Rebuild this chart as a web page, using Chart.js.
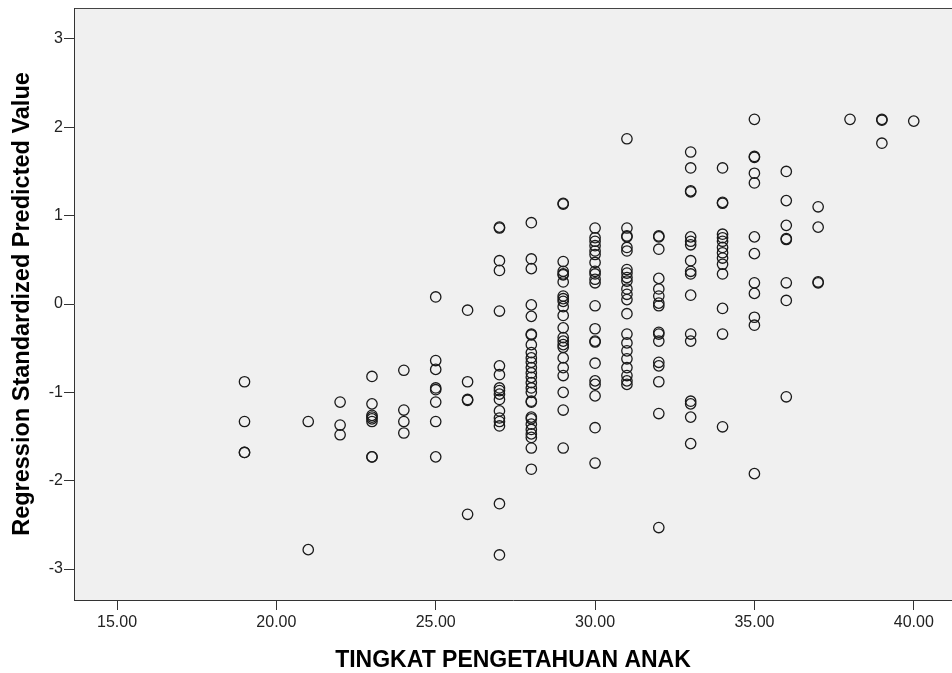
<!DOCTYPE html>
<html>
<head>
<meta charset="utf-8">
<script src="https://cdn.jsdelivr.net/npm/chart.js@4/dist/chart.umd.min.js"></script>
<style>
  html, body { margin: 0; padding: 0; background: #fff; }
  #wrap { width: 952px; height: 673px; }
</style>
</head>
<body>
<div id="wrap"><canvas id="scatterChart" width="952" height="673"></canvas></div>
<script>
// knowledge score (x) and the predicted values plotted at each score
const scores = [19, 21, 22, 23, 24, 25, 26, 27, 28, 29, 30, 31, 32, 33, 34, 35, 36, 37, 38, 39, 40];
const predicted = [
    [-0.88, -1.33, -1.68, -1.68],
    [-1.33, -2.78],
    [-1.11, -1.37, -1.48],
    [-0.82, -1.13, -1.26, -1.28, -1.30, -1.33, -1.73, -1.73],
    [-0.75, -1.20, -1.33, -1.46],
    [0.08, -0.64, -0.74, -0.95, -0.97, -1.11, -1.33, -1.73],
    [-0.07, -0.88, -1.08, -1.09, -2.38],
    [0.86, 0.87, 0.49, 0.38, -0.08, -0.70, -0.80, -0.95, -0.98, -1.02, -1.08, -1.21, -1.29, -1.33, -1.38, -2.26, -2.84],
    [0.92, 0.51, 0.40, -0.01, -0.14, -0.34, -0.35, -0.46, -0.55, -0.61, -0.66, -0.72, -0.78, -0.83, -0.89, -0.95, -1.00, -1.10, -1.11, -1.28, -1.30, -1.36, -1.42, -1.47, -1.51, -1.63, -1.87],
    [1.13, 1.14, 0.48, 0.37, 0.34, 0.33, 0.25, 0.09, 0.06, 0.03, -0.03, -0.13, -0.27, -0.38, -0.42, -0.46, -0.49, -0.61, -0.72, -0.81, -1.00, -1.20, -1.63],
    [0.86, 0.75, 0.71, 0.66, 0.60, 0.56, 0.47, 0.37, 0.34, 0.28, 0.24, -0.02, -0.28, -0.42, -0.43, -0.67, -0.87, -0.91, -1.04, -1.40, -1.80],
    [1.87, 0.86, 0.76, 0.77, 0.64, 0.60, 0.39, 0.35, 0.30, 0.26, 0.17, 0.11, 0.05, -0.11, -0.34, -0.44, -0.53, -0.62, -0.72, -0.81, -0.87, -0.91],
    [0.76, 0.77, 0.62, 0.29, 0.17, 0.09, 0.01, -0.02, -0.32, -0.34, -0.42, -0.66, -0.70, -0.88, -1.24, -2.53],
    [1.72, 1.54, 1.27, 1.28, 0.76, 0.71, 0.67, 0.49, 0.37, 0.34, 0.10, -0.34, -0.42, -1.10, -1.13, -1.28, -1.58],
    [1.54, 1.14, 1.15, 0.79, 0.75, 0.71, 0.64, 0.58, 0.52, 0.45, 0.34, -0.05, -0.34, -1.39],
    [2.09, 1.66, 1.67, 1.48, 1.37, 0.76, 0.57, 0.24, 0.12, -0.15, -0.24, -1.92],
    [1.50, 1.17, 0.89, 0.73, 0.74, 0.24, 0.04, -1.05],
    [1.10, 0.87, 0.24, 0.25],
    [2.09],
    [2.08, 2.09, 1.82],
    [2.07]
];
const xTicks = [15, 20, 25, 30, 35, 40];
const yTicks = [-3, -2, -1, 0, 1, 2, 3];
const xTitle = 'TINGKAT PENGETAHUAN ANAK';
const yTitle = 'Regression Standardized Predicted Value';

const points = [];
for (let i = 0; i < scores.length; i++) {
    for (let j = 0; j < predicted[i].length; j++) {
        points.push({x: scores[i], y: predicted[i][j]});
    }
}

const FONT = "'Liberation Sans', Arial, sans-serif";

// grey plot background + top frame line
const plotBackground = {
    id: 'plotBackground',
    beforeDraw(chart) {
        const a = chart.chartArea;
        const ctx = chart.ctx;
        ctx.save();
        ctx.fillStyle = '#f0f0f0';
        ctx.fillRect(a.left, a.top, a.right - a.left, a.bottom - a.top);
        ctx.strokeStyle = '#444';
        ctx.lineWidth = 1;
        ctx.beginPath();
        ctx.moveTo(a.left, a.top + 0.5);
        ctx.lineTo(a.right, a.top + 0.5);
        ctx.stroke();
        ctx.restore();
    }
};

new Chart(document.getElementById('scatterChart').getContext('2d'), {
    type: 'scatter',
    data: {
        datasets: [{
            data: points,
            pointStyle: 'circle',
            pointRadius: 5.2,
            pointHoverRadius: 5.2,
            borderWidth: 1.3,
            borderColor: '#1a1a1a',
            backgroundColor: 'rgba(0,0,0,0)'
        }]
    },
    options: {
        responsive: false,
        animation: false,
        layout: {autoPadding: false, padding: {top: 8, left: 0, right: 0, bottom: 0}},
        plugins: {
            legend: {display: false},
            tooltip: {enabled: false}
        },
        scales: {
            x: {
                type: 'linear',
                min: 13.65,
                max: 41.2,
                afterBuildTicks: function(scale) {
                    scale.ticks = xTicks.map(v => ({value: v}));
                },
                afterFit: function(scale) {
                    scale.height = 73;
                    scale.paddingLeft = 0;
                    scale.paddingRight = 0;
                },
                ticks: {
                    color: '#222',
                    font: {family: FONT, size: 16},
                    padding: 3,
                    maxRotation: 0,
                    callback: v => Number(v).toFixed(2)
                },
                grid: {drawOnChartArea: false, drawTicks: true, tickLength: 10, color: '#333'},
                border: {display: true, color: '#333', width: 1},
                title: {
                    display: true,
                    text: xTitle,
                    color: '#000',
                    font: {family: FONT, size: 23, weight: 'bold', lineHeight: 1},
                    padding: {top: 0, bottom: 1}
                }
            },
            y: {
                type: 'linear',
                min: -3.35,
                max: 3.35,
                afterBuildTicks: function(scale) {
                    scale.ticks = yTicks.map(v => ({value: v}));
                },
                afterFit: function(scale) {
                    scale.width = 74;
                    scale.paddingTop = 0;
                    scale.paddingBottom = 0;
                },
                ticks: {
                    color: '#222',
                    font: {family: FONT, size: 16},
                    padding: 1
                },
                grid: {drawOnChartArea: false, drawTicks: true, tickLength: 10, color: '#333'},
                border: {display: true, color: '#333', width: 1},
                title: {
                    display: true,
                    text: yTitle,
                    color: '#000',
                    font: {family: FONT, size: 23.5, weight: 'bold', lineHeight: 1},
                    padding: {top: 11, bottom: 0}
                }
            }
        }
    },
    plugins: [plotBackground]
});
</script>
</body>
</html>
